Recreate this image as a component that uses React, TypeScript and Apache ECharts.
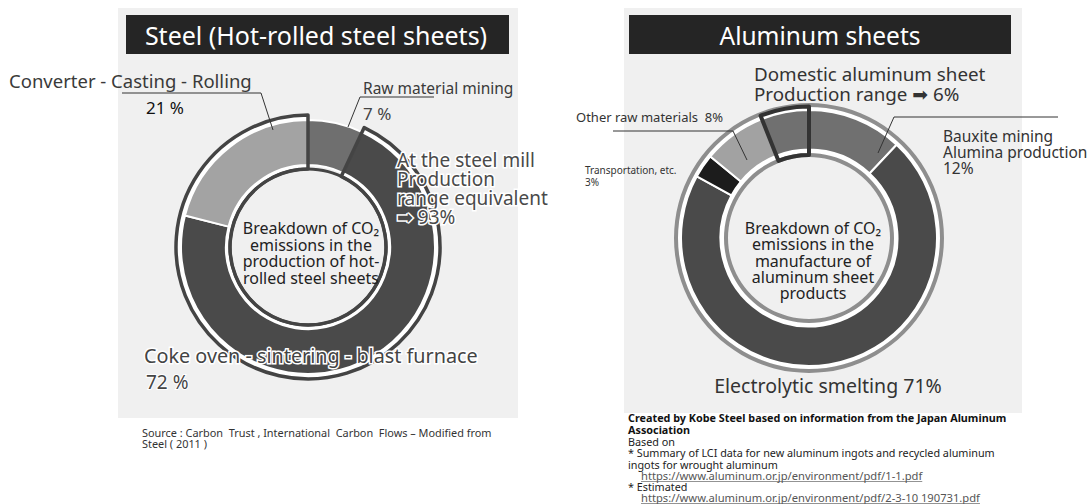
import React, { useEffect, useRef } from 'react';
import * as echarts from 'echarts';

// ---------- data ----------
const steelTitle = 'Steel (Hot-rolled steel sheets)';
const steelCategories = ['Raw material mining', 'Coke oven - sintering - blast furnace', 'Converter - Casting - Rolling'];
const steelValues = [7, 72, 21];
const steelColors = ['#6f6f6f', '#4a4a4a', '#a3a3a3'];

const aluTitle = 'Aluminum sheets';
const aluCategories = ['Bauxite mining\nAlumina production', 'Electrolytic smelting', 'Transportation, etc.', 'Other raw materials', 'Domestic aluminum sheet\nProduction range'];
const aluValues = [12, 71, 3, 8, 6];
const aluColors = ['#707070', '#4a4a4a', '#1c1c1c', '#a2a2a2', '#707070'];

const steelCenterText = ['Breakdown of CO\u2082', 'emissions in the', 'production of hot-', 'rolled steel sheets'];
const aluCenterText = ['Breakdown of CO\u2082', 'emissions in the', 'manufacture of', 'aluminum sheet', 'products'];
const steelSource = ['Source : Carbon  Trust , International  Carbon  Flows \u2013 Modified from', 'Steel ( 2011 )'];
const aluNotesBold = ['Created by Kobe Steel based on information from the Japan Aluminum', 'Association'];
const aluNotes = ['Based on', '* Summary of LCI data for new aluminum ingots and recycled aluminum', 'ingots for wrought aluminum'];
const aluUrl1 = 'https://www.aluminum.or.jp/environment/pdf/1-1.pdf';
const aluEstimated = '* Estimated';
const aluUrl2 = 'https://www.aluminum.or.jp/environment/pdf/2-3-10 190731.pdf';

const FONT = '"Noto Sans", "DejaVu Sans", sans-serif';

const measure = (text: string, size: number, weight = 'normal') => {
  try {
    const ctx = document.createElement('canvas').getContext('2d');
    if (!ctx) return text.length * size * 0.5;
    ctx.font = `${weight} ${size}px ${FONT}`;
    return ctx.measureText(text).width;
  } catch (e) {
    return text.length * size * 0.5;
  }
};

const T = (x: number, y: number, text: string, size: number, opts: any = {}) => ({
  type: 'text',
  z: 100,
  silent: true,
  style: {
    x,
    y,
    text,
    fill: opts.fill || '#333',
    fontSize: size,
    fontFamily: opts.family || FONT,
    fontWeight: opts.weight || 'normal',
    textAlign: opts.align || 'left',
    textVerticalAlign: opts.valign || 'middle',
    verticalAlign: opts.valign || 'middle',
    lineHeight: opts.lineHeight,
    stroke: opts.stroke,
    lineWidth: opts.lineWidth || 0,
  },
});

const L = (points: number[][], color = '#333', width = 1) => ({
  type: 'polyline',
  z: 90,
  silent: true,
  shape: { points },
  style: { stroke: color, lineWidth: width, fill: null },
});

const R = (x: number, y: number, w: number, h: number, fill: string, z = 0) => ({
  type: 'rect',
  z,
  silent: true,
  shape: { x, y, width: w, height: h },
  style: { fill },
});

const pieBase = {
  type: 'pie',
  silent: true,
  startAngle: 90,
  clockwise: true,
  avoidLabelOverlap: false,
  label: { show: false },
  labelLine: { show: false },
  emphasis: { disabled: true },
  animation: false,
};

export default function App() {
  const ref = useRef<HTMLDivElement>(null);
  useEffect(() => {
    if (!ref.current) return;
    const chart = echarts.init(ref.current, undefined, { renderer: 'svg' });
    const SC: [number, number] = [308, 247];
    const AC: [number, number] = [809, 238];
    const steelGroup = steelValues[1] + steelValues[2];
    const urlSize = 11.2;
    const u1 = measure(aluUrl1, urlSize);
    const u2 = measure(aluUrl2, urlSize);

    const series: any[] = [
      {
        ...pieBase, z: 1, center: SC, radius: [78, 132],
        data: steelValues.map((v, i) => ({ name: steelCategories[i], value: v, itemStyle: { color: i === 0 ? 'rgba(0,0,0,0)' : '#ffffff', borderWidth: 0 } })),
      },
      {
        ...pieBase, z: 2, center: SC, radius: [76.5, 79.5],
        data: [{ value: 1, itemStyle: { color: '#454545' } }],
      },
      {
        ...pieBase, z: 3, center: SC, radius: [82, 127],
        data: steelValues.map((v, i) => ({ name: steelCategories[i], value: v, itemStyle: { color: steelColors[i], borderColor: '#ffffff', borderWidth: 2 } })),
      },
      {
        ...pieBase, z: 4, center: SC, radius: [78, 132],
        data: [
          { value: steelValues[0], itemStyle: { color: 'rgba(0,0,0,0)', borderWidth: 0 } },
          { value: steelGroup, itemStyle: { color: 'rgba(0,0,0,0)', borderColor: '#444444', borderWidth: 3.5 } },
        ],
      },
      {
        ...pieBase, z: 1, center: AC, radius: [84, 131],
        data: [{ value: 1, itemStyle: { color: '#ffffff' } }],
      },
      {
        ...pieBase, z: 2, center: AC, radius: [131, 135],
        data: [{ value: 1, itemStyle: { color: '#8e8e8e' } }],
      },
      {
        ...pieBase, z: 2, center: AC, radius: [81, 85],
        data: [{ value: 1, itemStyle: { color: '#8e8e8e' } }],
      },
      {
        ...pieBase, z: 3, center: AC, radius: [88.5, 128],
        data: aluValues.map((v, i) => ({ name: aluCategories[i], value: v, itemStyle: { color: aluColors[i], borderColor: '#ffffff', borderWidth: 2 } })),
      },
      {
        ...pieBase, z: 4, center: AC, radius: [83, 131.5],
        data: aluValues.map((v, i) => ({
          value: v,
          itemStyle: i === aluValues.length - 1
            ? { color: 'rgba(0,0,0,0)', borderColor: '#333333', borderWidth: 4 }
            : { color: 'rgba(0,0,0,0)', borderWidth: 0 },
        })),
      },
    ];

    const graphic: any[] = [
      R(118, 8, 400, 410, '#f0f0f0', 0),
      R(126, 15, 383, 39, '#252525', 1),
      R(624, 8, 398, 405, '#f0f0f0', 0),
      R(629, 15, 382, 39, '#252525', 1),
      T(316, 35, steelTitle, 25, { fill: '#ffffff', align: 'center' }),
      T(820, 35, aluTitle, 24.5, { fill: '#ffffff', align: 'center' }),

      T(9, 80, steelCategories[2], 18.5, { fill: '#3a3a3a' }),
      T(146, 107, `${steelValues[2]} %`, 17, { fill: '#111' }),
      L([[122, 93], [261, 93], [273, 130]]),
      T(363, 88, steelCategories[0], 15.5, { fill: '#3a3a3a' }),
      L([[434, 97], [360, 97], [348, 127]]),
      T(363, 113, `${steelValues[0]} %`, 17, { fill: '#444' }),
      T(397, 150.5, `At the steel mill\nProduction\nrange equivalent\n\u27A1 ${steelGroup}%`, 19, {
        fill: '#4a4a4a', stroke: '#ffffff', lineWidth: 3, valign: 'top', lineHeight: 19,
      }),
      T(311, 219.5, steelCenterText.join('\n'), 16, { fill: '#222', align: 'center', valign: 'top', lineHeight: 16.7 }),
      T(144, 355, steelCategories[1], 19.8, { fill: '#444', stroke: '#ffffff', lineWidth: 3 }),
      T(146, 382, `${steelValues[1]} %`, 19, { fill: '#444', stroke: '#ffffff', lineWidth: 2 }),
      T(142, 426.5, steelSource.join('\n'), 10.9, { fill: '#333', valign: 'top', lineHeight: 11.5 }),

      T(754, 64.5, `${aluCategories[4].split('\n')[0]}\n${aluCategories[4].split('\n')[1]} \u27A1 ${aluValues[4]}%`, 18.8, {
        fill: '#333', valign: 'top', lineHeight: 19.5,
      }),
      T(576, 117, `${aluCategories[3]}  ${aluValues[3]}%`, 13, { fill: '#333' }),
      L([[613, 131], [733, 131], [747, 160]]),
      T(585, 164, `${aluCategories[2]}\n${aluValues[2]}%`, 10, { fill: '#333', valign: 'top', lineHeight: 12 }),
      T(943, 128, `${aluCategories[0]}\n${aluValues[0]}%`, 15.5, { fill: '#333', valign: 'top', lineHeight: 16 }),
      L([[1058, 117], [894, 117], [878, 153]]),
      T(813, 219.8, aluCenterText.join('\n'), 16, { fill: '#222', align: 'center', valign: 'top', lineHeight: 16.3 }),
      T(828, 385, `${aluCategories[1]} ${aluValues[1]}%`, 19.5, { fill: '#333', align: 'center' }),

      T(628, 411.5, aluNotesBold.join('\n'), 10.8, { fill: '#111', weight: 'bold', valign: 'top', lineHeight: 12 }),
      T(628, 435.5, aluNotes.join('\n'), 10.8, { fill: '#222', valign: 'top', lineHeight: 11.5 }),
      T(641, 475, aluUrl1, urlSize, { fill: '#555' }),
      L([[641, 481.5], [641 + u1, 481.5]], '#777', 0.8),
      T(628, 486.5, aluEstimated, 10.8, { fill: '#222' }),
      T(641, 497.5, aluUrl2, urlSize, { fill: '#555' }),
      L([[641, 503.5], [641 + u2, 503.5]], '#777', 0.8),
    ];

    chart.setOption({
      animation: false,
      backgroundColor: '#ffffff',
      series,
      graphic,
    });
    return () => chart.dispose();
  }, []);
  return <div ref={ref} style={{ position: 'absolute', left: 0, top: 0, width: 1091, height: 504 }} />;
}
